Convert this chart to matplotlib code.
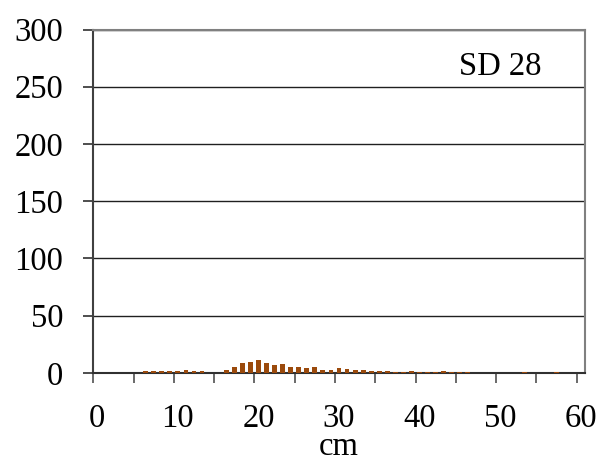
import matplotlib
matplotlib.use("Agg")
import matplotlib.pyplot as plt
import numpy as np

plt.rcParams['font.family'] = ['Liberation Serif', 'DejaVu Serif']

# Length classes (cm) and counts
lengths = [6, 7, 8, 9, 10, 11, 12, 13,
           16, 17, 18, 19, 20, 21, 22, 23, 24, 25,
           26, 27, 28, 29, 30, 31, 32, 33, 34, 35,
           36, 37, 38, 39, 40, 41, 42, 43, 44, 45,
           46, 53, 57]
counts = [1.5, 1.5, 1.5, 2, 2, 3, 2, 2,
          3, 5, 8.7, 10, 11, 8.5, 7, 8, 5, 5.5,
          4, 5, 3, 2.5, 4, 3.8, 2.6, 2.3, 1.5, 2,
          1.5, 1.2, 1.2, 1.5, 1.2, 1.2, 1.2, 1.5, 0.8, 1.2,
          1, 0.8, 0.8]
yticks = [0, 50, 100, 150, 200, 250, 300]
xticklabels = [0, 10, 20, 30, 40, 50, 60]
label_text = "SD 28"

fig = plt.figure(figsize=(6.04, 4.61), dpi=100)
ax = fig.add_axes([0.1545, 0.191, 0.8135, 0.745])

# category axis: each length class occupies one unit, bar centred in it
ax.bar(np.array(lengths) + 0.5, counts, width=0.6, color='#9B4A0C', zorder=3)

ax.set_xlim(0, 61)
ax.set_ylim(0, 300)
ax.set_yticks(yticks)
ax.set_xticks(np.arange(0, 61, 5))
ax.set_xticklabels([])
ax.set_xticks(np.array(xticklabels) + 0.5, minor=True)
ax.set_xticklabels([str(v) for v in xticklabels], minor=True)

ax.yaxis.grid(True, color='#202020', linewidth=1.0, zorder=0)
ax.set_axisbelow(True)

for side in ['left', 'right', 'top', 'bottom']:
    ax.spines[side].set_color('#808080')
    ax.spines[side].set_linewidth(1.5)
ax.spines['bottom'].set_color('#303030')
ax.spines['left'].set_color('#404040')

fs = 23.5
ax.tick_params(axis='y', which='major', labelsize=fs, length=7.5, width=1.2,
               color='#303030', pad=14, direction='out')
ax.tick_params(axis='x', which='major', length=7.5, width=1.2,
               color='#505050', direction='out')
ax.tick_params(axis='x', which='minor', length=0, labelsize=fs, pad=22)

ax.set_xlabel('cm', fontsize=fs)
ax.xaxis.set_label_coords(0.5, -0.239)
ax.xaxis.label.set_va('baseline')
ax.text(0.828, 0.868, label_text, transform=ax.transAxes, fontsize=fs,
        ha='center', va='baseline')

fig.savefig('out.png', dpi=100)
